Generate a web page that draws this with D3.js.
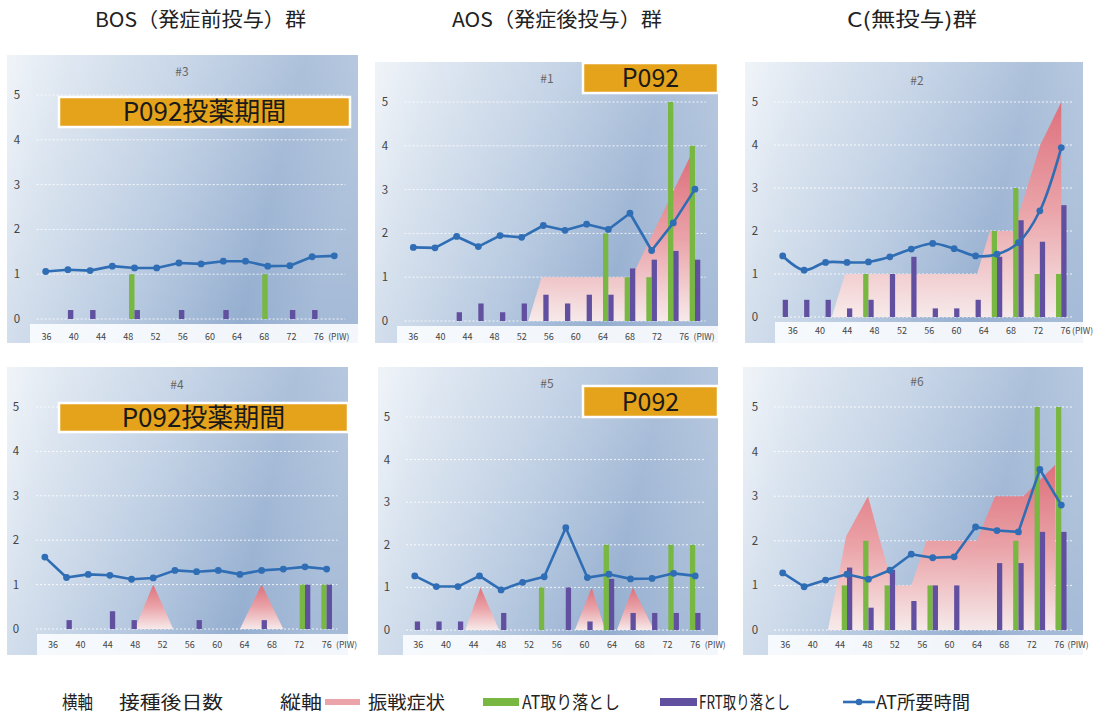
<!DOCTYPE html>
<html><head><meta charset="utf-8">
<script src="https://cdn.jsdelivr.net/npm/d3@7"></script>
<style>
body{margin:0;background:#fff}
svg{display:block}
text{font-family:"Noto Sans CJK JP","Noto Sans",sans-serif}
</style>
</head><body>
<svg id="c" width="1098" height="717"></svg>
<script>
// ---------------- DATA ----------------
const groupTitles = ["BOS（発症前投与）群", "AOS（発症後投与）群", "C(無投与)群"];
const weekTicks = [36, 40, 44, 48, 52, 56, 60, 64, 68, 72, 76];
const yTicks = [0, 1, 2, 3, 4, 5];
const legendLabels = ["振戦症状", "AT取り落とし", "FRT取り落とし", "AT所要時間"];

// #3 (BOS)
const atTime3  = [1.06,1.10,1.08,1.18,1.14,1.14,1.25,1.23,1.29,1.29,1.18,1.19,1.39,1.41];
const atDrop3  = [0,0,0,0,1,0,0,0,0,0,1,0,0,0];
const frtDrop3 = [0,0.2,0.2,0,0.2,0,0.2,0,0.2,0,0,0.2,0.2,0];
const tremor3  = [];
// #1 (AOS)
const atTime1  = [1.68,1.67,1.93,1.70,1.95,1.91,2.18,2.07,2.21,2.09,2.46,1.61,2.24,3.01];
const atDrop1  = [0,0,0,0,0,0,0,0,0,2,1,1,5,4];
const frtDrop1 = [0,0,0.2,0.4,0.2,0.4,0.6,0.4,0.6,0.6,1.2,1.4,1.6,1.4];
const tremor1  = [[5.31,0],[5.92,1],[10.08,1],[12.77,3.75],[12.77,0]];
// #2 (C)
const atTime2  = [1.42,1.09,1.27,1.27,1.28,1.40,1.58,1.71,1.59,1.42,1.46,1.73,2.47,3.94];
const atDrop2  = [0,0,0,0,1,0,0,0,0,0,2,3,1,1];
const frtDrop2 = [0.4,0.4,0.4,0.2,0.4,1.0,1.4,0.2,0.2,0.4,1.4,2.25,1.75,2.6];
const tremor2  = [[2.29,0],[2.91,1],[9.07,1],[9.66,2],[10.78,2],[12.02,4],[13,5],[13,0]];
// #4 (BOS)
const atTime4  = [1.62,1.16,1.23,1.21,1.12,1.15,1.32,1.29,1.32,1.23,1.32,1.35,1.40,1.35];
const atDrop4  = [0,0,0,0,0,0,0,0,0,0,0,0,1,1];
const frtDrop4 = [0,0.2,0,0.4,0.2,0,0,0.2,0,0,0.2,0,1,1];
const tremor4  = [[4.15,0],[5,1],[5.92,0],[9,0],[10,1],[11,0]];
// #5 (AOS)
const atTime5  = [1.27,1.02,1.02,1.27,0.94,1.12,1.25,2.40,1.23,1.31,1.20,1.21,1.33,1.27];
const atDrop5  = [0,0,0,0,0,0,1,0,0,2,0,0,2,2];
const frtDrop5 = [0.2,0.2,0.2,0,0.4,0,0,1,0.2,1.2,0.4,0.4,0.4,0.4];
const tremor5  = [[2.34,0],[3.05,1],[3.91,0],[7.42,0],[8.2,1],[8.83,0],[9.37,0],[10.11,1],[11.09,0]];
// #6 (C)
const atTime6  = [1.28,0.97,1.12,1.25,1.14,1.34,1.70,1.62,1.64,2.31,2.23,2.20,3.60,2.80];
const atDrop6  = [0,0,0,1,2,1,0,1,0,0,0,2,5,5];
const frtDrop6 = [0,0,0,1.4,0.5,1.35,0.65,1.0,1.0,0,1.5,1.5,2.2,2.2];
const tremor6  = [[2.11,0],[2.96,2.1],[3.98,3],[4.6,1.9],[5.15,1],[6,1],[6.71,2],[9.05,2],[9.91,3],[11.23,3],[12.71,3.7],[12.71,0]];

// ---------------- LAYOUT ----------------
const panels = [
  {id:"#3", at:atTime3, ag:atDrop3, fr:frtDrop3, tr:tremor3, smooth:false,
   bg:[7,55,358,343], xr:[34.6,345.4], yr:[319,95], ylx:17, strip:30, lab:[0.04,12.3], laby:337, ttl:[182,76], piw:20,
   box:{x:59,y:97,w:291,h:30,text:"P092投薬期間",fs:26}},
  {id:"#1", at:atTime1, ag:atDrop1, fr:frtDrop1, tr:tremor1, smooth:false,
   bg:[375,62,718,343], xr:[402.5,705.8], yr:[321,102], ylx:385, strip:397, lab:[0,12.5], laby:337, ttl:[547,83], piw:20,
   box:{x:583,y:63,w:135,h:30,text:"P092",fs:25}},
  {id:"#2", at:atTime2, ag:atDrop2, fr:frtDrop2, tr:tremor2, smooth:true,
   bg:[745,62,1083,343], xr:[772,1072], yr:[317,102], ylx:755, strip:775, lab:[0.47,13.2], laby:331, ttl:[917,85], piw:17, box:null},
  {id:"#4", at:atTime4, ag:atDrop4, fr:frtDrop4, tr:tremor4, smooth:false,
   bg:[7,367,348,655], xr:[34,337.5], yr:[629,407], ylx:16, strip:37, lab:[0.38,13.0], laby:645, ttl:[177,389], piw:20,
   box:{x:59,y:403,w:289,h:29,text:"P092投薬期間",fs:26}},
  {id:"#5", at:atTime5, ag:atDrop5, fr:frtDrop5, tr:tremor5, smooth:false,
   bg:[378,367,718,655], xr:[404,706], yr:[630,417], ylx:387, strip:403, lab:[0.16,13.0], laby:645, ttl:[547,388], piw:20,
   box:{x:583,y:386,w:135,h:31,text:"P092",fs:25}},
  {id:"#6", at:atTime6, ag:atDrop6, fr:frtDrop6, tr:tremor6, smooth:false,
   bg:[743,367,1083,655], xr:[772,1072], yr:[630,407], ylx:755, strip:768, lab:[0.12,12.9], laby:645, ttl:[917,386], piw:19, box:null}
];

const C_GREEN = "#79b743", C_PURPLE = "#6150a0", C_LINE = "#2f6db4";

const svg = d3.select("#c");
const defs = svg.append("defs");
const bgGrad = defs.append("linearGradient").attr("id","bgG").attr("x1",0).attr("y1",0.1).attr("x2",1).attr("y2",0.3);
[[0,"#e9eff6"],[0.15,"#d5e0ed"],[0.5,"#b4c7df"],[0.8,"#93adcf"],[1,"#a3b9d6"]]
  .forEach(s=>bgGrad.append("stop").attr("offset",s[0]).attr("stop-color",s[1]));
const pinkGrad = defs.append("linearGradient").attr("id","pinkG").attr("x1",0).attr("y1",0).attr("x2",0).attr("y2",1);
[[0,"#e06c77"],[0.5,"#eda2a6"],[1,"#fbeceb"]]
  .forEach(s=>pinkGrad.append("stop").attr("offset",s[0]).attr("stop-color",s[1]));
const lightGrad = defs.append("linearGradient").attr("id","lightG").attr("x1",0).attr("y1",0).attr("x2",0).attr("y2",1);
[[0,"#ffffff",0.25],[1,"#ffffff",0]]
  .forEach(s=>lightGrad.append("stop").attr("offset",s[0]).attr("stop-color",s[1]).attr("stop-opacity",s[2]));

// column titles
const titleX = [[95,306],[452,662],[847,977]];
groupTitles.forEach((t,i)=>{
  svg.append("text").attr("x",titleX[i][0]).attr("y",27).attr("font-size",20).attr("fill","#222")
    .attr("textLength",titleX[i][1]-titleX[i][0]).attr("lengthAdjust","spacingAndGlyphs").text(t);
});

panels.forEach(p=>{
  const g = svg.append("g");
  const x = d3.scaleLinear().domain([-0.5,13.5]).range(p.xr);
  const y = d3.scaleLinear().domain([0,5]).range(p.yr);
  const [bx0,by0,bx1,by1] = p.bg;
  g.append("rect").attr("x",bx0).attr("y",by0).attr("width",bx1-bx0).attr("height",by1-by0).attr("fill","url(#bgG)");
  g.append("rect").attr("x",bx0).attr("y",by0).attr("width",bx1-bx0).attr("height",by1-by0).attr("fill","url(#lightG)");
  // label strip
  g.append("rect").attr("x",p.strip).attr("y",y(0)+5).attr("width",bx1-p.strip).attr("height",by1-(y(0)+5))
    .attr("fill","#fafcfe").attr("opacity",0.92);
  // gridlines
  g.selectAll(".gl").data(yTicks).join("line")
    .attr("x1",x(-0.5)+2).attr("x2",x(13.5)).attr("y1",d=>y(d)).attr("y2",d=>y(d))
    .attr("stroke","#ffffff").attr("stroke-width",1).attr("stroke-dasharray","2,2").attr("opacity",0.85);
  // tremor area
  if (p.tr.length){
    const area = d3.area().x(d=>x(d[0])).y0(y(0)).y1(d=>y(d[1]));
    g.append("path").datum(p.tr).attr("d",area).attr("fill","url(#pinkG)").attr("opacity",0.95);
  }
  // bars
  const step = x(1)-x(0), w = step*0.245;
  g.selectAll(".gb").data(p.ag.map((v,i)=>({v,i})).filter(d=>d.v>0)).join("rect")
    .attr("x",d=>x(d.i)-w).attr("width",w).attr("y",d=>y(d.v)).attr("height",d=>y(0)-y(d.v)).attr("fill",C_GREEN);
  g.selectAll(".pb").data(p.fr.map((v,i)=>({v,i})).filter(d=>d.v>0)).join("rect")
    .attr("x",d=>x(d.i)).attr("width",w).attr("y",d=>y(d.v)).attr("height",d=>y(0)-y(d.v)).attr("fill",C_PURPLE);
  // line
  const line = d3.line().x((d,i)=>x(i)).y(d=>y(d)).curve(p.smooth?d3.curveCatmullRom.alpha(0.5):d3.curveLinear);
  g.append("path").datum(p.at).attr("d",line).attr("fill","none").attr("stroke",C_LINE).attr("stroke-width",2.6)
    .attr("stroke-linejoin","round");
  g.selectAll(".mk").data(p.at).join("circle").attr("cx",(d,i)=>x(i)).attr("cy",d=>y(d)).attr("r",3.4).attr("fill",C_LINE);
  // panel id
  g.append("text").attr("x",p.ttl[0]).attr("y",p.ttl[1]).attr("text-anchor","middle").attr("font-size",12)
    .attr("fill","#666").text(p.id);
  // y tick labels
  g.selectAll(".yl").data(yTicks).join("text").attr("x",p.ylx).attr("y",d=>y(d)+4).attr("text-anchor","middle")
    .attr("font-size",11.5).attr("fill","#444").text(d=>d);
  // x tick labels
  const wk = d3.scaleLinear().domain([36,76]).range([x(p.lab[0]),x(p.lab[1])]);
  g.selectAll(".xl").data(weekTicks).join("text").attr("x",d=>wk(d)).attr("y",p.laby+3).attr("text-anchor","middle")
    .attr("font-size",9).attr("fill","#444").text(d=>d);
  g.append("text").attr("x",wk(76)+p.piw).attr("y",p.laby+3).attr("text-anchor","middle").attr("font-size",8.5)
    .attr("fill","#444").text("(PIW)");
  // drug box
  if (p.box){
    const b = p.box;
    g.append("rect").attr("x",b.x).attr("y",b.y).attr("width",b.w).attr("height",b.h)
      .attr("fill","#e5a31b").attr("stroke","#ffffff").attr("stroke-width",2.5);
    g.append("text").attr("x",b.x+b.w/2).attr("y",b.y+b.h/2+b.fs*0.36).attr("text-anchor","middle")
      .attr("font-size",b.fs).attr("fill","#1a1a1a").text(b.text);
  }
});

// legend
const lg = svg.append("g");
const ly = 702;
const legText = [["横軸",62,93],["接種後日数",119,223],["縦軸",280,322],
  [legendLabels[0],368,445],[legendLabels[1],522,620],[legendLabels[2],699,790],[legendLabels[3],876,970]];
legText.forEach(t=>{
  lg.append("text").attr("x",t[1]).attr("y",ly+6.5).attr("font-size",18).attr("fill","#222")
    .attr("textLength",t[2]-t[1]).attr("lengthAdjust","spacingAndGlyphs").text(t[0]);
});
lg.append("rect").attr("x",325).attr("y",ly-3).attr("width",35).attr("height",6).attr("fill","#eba4aa");
lg.append("rect").attr("x",483).attr("y",ly-4).attr("width",36).attr("height",8).attr("fill",C_GREEN);
lg.append("rect").attr("x",660).attr("y",ly-4).attr("width",37).attr("height",8).attr("fill",C_PURPLE);
lg.append("line").attr("x1",843).attr("x2",875).attr("y1",ly).attr("y2",ly).attr("stroke",C_LINE).attr("stroke-width",2.6);
lg.append("circle").attr("cx",859).attr("cy",ly).attr("r",3.3).attr("fill",C_LINE);
</script>
</body></html>
